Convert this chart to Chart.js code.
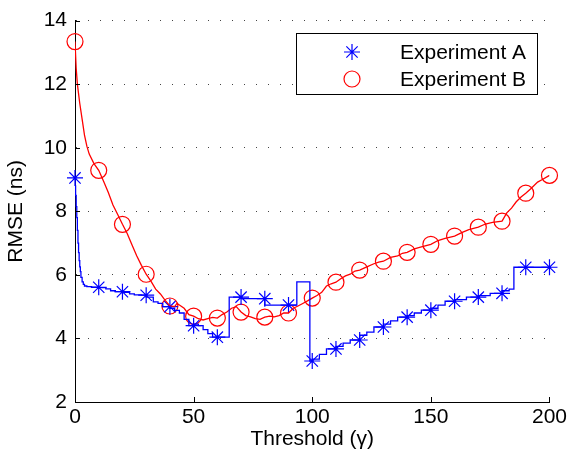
<!DOCTYPE html>
<html>
<head>
<meta charset="utf-8">
<script src="https://cdn.jsdelivr.net/npm/chart.js@4/dist/chart.umd.min.js"></script>
<style>
html,body{margin:0;padding:0;background:#fff;}
#wrap{width:570px;height:463px;}
</style>
</head>
<body>
<div id="wrap"><canvas id="c" width="570" height="463"></canvas></div>
<script>
// ---- tick labels / axes ----
const xTicks = [0, 50, 100, 150, 200];
const yTicks = [2, 4, 6, 8, 10, 12, 14];
const seriesNames = ['Experiment A', 'Experiment B'];

// ---- markers (every 10) ----
const markerX = [0,10,20,30,40,50,60,70,80,90,100,110,120,130,140,150,160,170,180,190,200];
const markerA = [9.05,5.61,5.47,5.36,5.0,4.4,4.04,5.3,5.25,5.05,3.29,3.67,3.95,4.36,4.67,4.89,5.17,5.3,5.42,6.24,6.24];
const markerB = [13.34,9.29,7.59,6.02,5.02,4.7,4.64,4.83,4.67,4.8,5.27,5.77,6.15,6.43,6.71,6.96,7.22,7.5,7.69,8.57,9.13];

// ---- full curves ----
const lineAX = [0,0.25,0.5,0.75,1,1.25,1.5,1.75,2,2.25,2.5,3,3.5,4,5,7,10,13,15,17,20,23,25,28,30,33,35,37,40,42,44,46,48,50,52,54,56,58,60,65,65,68,70,73,80,82,90,93.5,93.5,99,99,100,103,106,110,113,116,120,123,126,130,133,136,140,143,146,150,153,156,160,165,170,175,180,183,185,185.5,190,200];
const lineAY = [9.05,8.8,8.5,8.15,7.8,7.4,7.0,6.7,6.45,6.25,6.1,5.92,5.78,5.7,5.65,5.63,5.61,5.6,5.56,5.5,5.47,5.45,5.4,5.37,5.36,5.3,5.15,5.1,5.0,4.95,4.88,4.8,4.6,4.4,4.45,4.4,4.28,4.15,4.04,4.04,5.3,5.3,5.3,5.25,5.25,5.05,5.05,5.05,5.78,5.78,3.29,3.29,3.35,3.5,3.67,3.75,3.85,3.95,4.1,4.2,4.36,4.45,4.55,4.67,4.72,4.8,4.89,4.95,5.05,5.17,5.22,5.3,5.35,5.42,5.5,5.55,6.24,6.24,6.24];

const lineBX = [0,0.5,1,2,3,4,5,6,8,10,12,14,16,18,20,22,24,26,28,30,32,34,36,38,40,42,43,44,46,48,50,52,54,56,58,60,62,64,66,68,70,72,74,76,78,80,82,84,86,88,90,92,94,96,98,100,102,104,106,108,110,112,114,116,118,120,123,126,128,130,133,136,138,140,143,146,150,153,156,160,163,166,170,173,176,180,182,184,186,188,190,192,195,197,200];
const lineBY = [13.34,12.5,12.0,11.4,10.9,10.4,10.05,9.8,9.5,9.29,8.95,8.6,8.2,7.9,7.59,7.3,6.95,6.6,6.3,6.02,5.8,5.55,5.4,5.2,5.02,5.0,5.1,5.05,4.95,4.75,4.7,4.62,4.58,4.62,4.66,4.64,4.75,4.83,4.95,5.0,4.83,4.72,4.68,4.62,4.6,4.67,4.7,4.68,4.72,4.8,4.8,4.95,5.02,5.1,5.18,5.27,5.35,5.45,5.65,5.72,5.77,5.88,5.97,6.02,6.12,6.15,6.25,6.35,6.4,6.43,6.55,6.6,6.68,6.71,6.82,6.88,6.96,7.08,7.15,7.22,7.33,7.42,7.5,7.6,7.65,7.69,7.95,8.1,8.3,8.45,8.57,8.7,8.92,9.0,9.13];

const BLUE = '#0000ff';
const RED = '#ff0000';
const FONT = "'Liberation Sans', Arial, Helvetica, sans-serif";
const FS = 21;

function pts(xs, ys){ return xs.map((x,i)=>({x:x, y:ys[i]})); }

const decor = {
  id: 'decor',
  afterDraw(chart){
    const ctx = chart.ctx;
    const xs = chart.scales.x, ys = chart.scales.y;
    const ca = chart.chartArea;
    ctx.save();
    // inward tick marks
    ctx.strokeStyle = '#000';
    ctx.lineWidth = 1;
    ctx.beginPath();
    xTicks.forEach(v=>{
      const px = Math.round(xs.getPixelForValue(v))+0.5;
      ctx.moveTo(px, ca.bottom); ctx.lineTo(px, ca.bottom-5);
    });
    yTicks.forEach(v=>{
      const py = Math.round(ys.getPixelForValue(v))+0.5;
      ctx.moveTo(ca.left, py); ctx.lineTo(ca.left+5, py);
    });
    ctx.stroke();
    // legend box
    const bx = 296.5, by = 33.5, bw = 241, bh = 61;
    ctx.fillStyle = '#fff';
    ctx.fillRect(bx, by, bw, bh);
    ctx.strokeStyle = '#000';
    ctx.lineWidth = 1;
    ctx.strokeRect(bx, by, bw, bh);
    const rows = [52, 79];
    const mx = 352;
    // star
    ctx.strokeStyle = BLUE; ctx.lineWidth = 1.2;
    ctx.beginPath();
    const r = 8, d = r*Math.SQRT1_2, y0 = rows[0];
    ctx.moveTo(mx-r, y0); ctx.lineTo(mx+r, y0);
    ctx.moveTo(mx, y0-r); ctx.lineTo(mx, y0+r);
    ctx.moveTo(mx-d, y0-d); ctx.lineTo(mx+d, y0+d);
    ctx.moveTo(mx-d, y0+d); ctx.lineTo(mx+d, y0-d);
    ctx.stroke();
    // circle
    ctx.strokeStyle = RED;
    ctx.beginPath();
    ctx.arc(mx, rows[1], 8, 0, Math.PI*2);
    ctx.stroke();
    ctx.fillStyle = '#000';
    ctx.font = FS + 'px ' + FONT;
    ctx.textBaseline = 'middle';
    ctx.textAlign = 'left';
    ctx.fillText(seriesNames[0], 400, rows[0]+1);
    ctx.fillText(seriesNames[1], 400, rows[1]+1);
    ctx.restore();
  }
};

Chart.defaults.font.family = FONT;
Chart.defaults.font.size = FS;
Chart.defaults.color = '#000';

new Chart(document.getElementById('c'), {
  type: 'scatter',
  data: {
    datasets: [
      { label: seriesNames[0] + ' line', data: pts(lineAX, lineAY), showLine: true, stepped: 'after', borderColor: BLUE, borderWidth: 1.3, pointRadius: 0, tension: 0, fill: false },
      { label: seriesNames[1] + ' line', data: pts(lineBX, lineBY), showLine: true, borderColor: RED, borderWidth: 1.3, pointRadius: 0, tension: 0, fill: false },
      { label: seriesNames[0], data: pts(markerX, markerA), showLine: false, clip: false, pointStyle: 'star', pointRadius: 8, pointBorderColor: BLUE, pointBackgroundColor: 'rgba(0,0,0,0)', pointBorderWidth: 1.2, borderColor: BLUE },
      { label: seriesNames[1], data: pts(markerX, markerB), showLine: false, clip: false, pointStyle: 'circle', pointRadius: 8, pointBorderColor: RED, pointBackgroundColor: 'rgba(0,0,0,0)', pointBorderWidth: 1.2, borderColor: RED }
    ]
  },
  options: {
    responsive: false,
    animation: false,
    devicePixelRatio: 1,
    layout: { padding: { left: 0, top: 20, right: 19, bottom: 7 } },
    plugins: { legend: { display: false }, tooltip: { enabled: false } },
    scales: {
      x: {
        type: 'linear', min: 0, max: 200,
        afterFit(s){ s.height = 54; },
        afterBuildTicks(s){ s.ticks = xTicks.map(v=>({value:v})); },
        grid: { display: false, drawTicks: false },
        border: { display: true, color: '#000', width: 1 },
        ticks: { padding: 3, maxRotation: 0, autoSkip: false, color: '#000' },
        title: { display: true, text: 'Threshold (γ)', padding: { top: 0, bottom: 4 }, color: '#000' }
      },
      y: {
        type: 'linear', min: 2, max: 14,
        afterFit(s){ s.width = 75; },
        afterBuildTicks(s){ s.ticks = yTicks.map(v=>({value:v})); },
        grid: { display: true, drawTicks: false, color: '#444', lineWidth: 1 },
        border: { display: true, color: '#000', width: 1, dash: [1, 11] },
        ticks: { padding: 8, autoSkip: false, color: '#000' },
        title: { display: true, text: 'RMSE (ns)', padding: { top: 4, bottom: 0 }, color: '#000' }
      }
    }
  },
  plugins: [decor]
});
</script>
</body>
</html>
